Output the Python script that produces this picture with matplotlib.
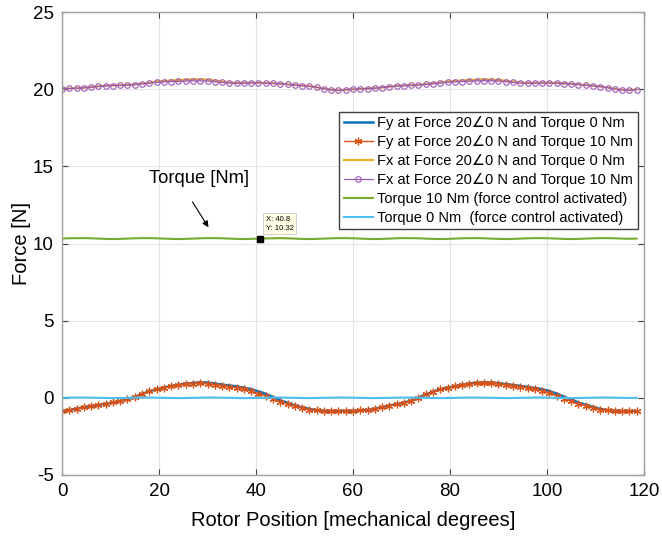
import numpy as np
import matplotlib
matplotlib.use("Agg")
import matplotlib.pyplot as plt

plt.rcParams['font.family'] = ['Liberation Sans', 'DejaVu Sans']
plt.rcParams['axes.unicode_minus'] = False

# rotor position grid [mech. degrees]
pos = np.arange(80) * 1.5

fy_t0 = [-0.86, -0.80, -0.70, -0.60, -0.53, -0.46, -0.39, -0.30, -0.20, -0.10,
         0.05, 0.25, 0.42, 0.56, 0.66, 0.77, 0.85, 0.92, 0.97, 1.00,
         0.99, 0.93, 0.86, 0.80, 0.74, 0.66, 0.56, 0.42, 0.26, 0.06,
         -0.15, -0.33, -0.48, -0.62, -0.72, -0.80, -0.84, -0.85, -0.85, -0.85,
         -0.84, -0.82, -0.78, -0.71, -0.60, -0.50, -0.41, -0.31, -0.18, 0.02,
         0.22, 0.40, 0.55, 0.66, 0.76, 0.85, 0.93, 0.98, 1.00, 0.99,
         0.95, 0.89, 0.83, 0.77, 0.71, 0.64, 0.56, 0.44, 0.28, 0.08,
         -0.12, -0.30, -0.46, -0.60, -0.72, -0.80, -0.84, -0.86, -0.86, -0.86]

fy_t10 = [-0.84, -0.80, -0.70, -0.58, -0.52, -0.45, -0.39, -0.30, -0.20, -0.10,
          0.06, 0.27, 0.43, 0.56, 0.64, 0.75, 0.82, 0.88, 0.92, 0.93,
          0.91, 0.84, 0.78, 0.71, 0.64, 0.55, 0.43, 0.27, 0.12, -0.08,
          -0.27, -0.42, -0.55, -0.67, -0.76, -0.81, -0.84, -0.85, -0.85, -0.85,
          -0.84, -0.82, -0.78, -0.72, -0.60, -0.50, -0.41, -0.31, -0.18, 0.02,
          0.22, 0.40, 0.54, 0.64, 0.74, 0.82, 0.89, 0.93, 0.94, 0.93,
          0.89, 0.83, 0.76, 0.70, 0.63, 0.55, 0.45, 0.32, 0.15, -0.05,
          -0.23, -0.38, -0.52, -0.65, -0.76, -0.82, -0.85, -0.86, -0.86, -0.86]

fx_t0 = [20.04, 20.05, 20.07, 20.10, 20.14, 20.19, 20.23, 20.25, 20.26, 20.28,
         20.32, 20.37, 20.43, 20.50, 20.54, 20.57, 20.60, 20.62, 20.64, 20.64,
         20.62, 20.57, 20.50, 20.44, 20.41, 20.41, 20.42, 20.42, 20.41, 20.39,
         20.36, 20.32, 20.28, 20.24, 20.20, 20.13, 20.04, 19.97, 19.94, 19.97,
         20.00, 20.02, 20.04, 20.07, 20.12, 20.17, 20.22, 20.24, 20.26, 20.28,
         20.33, 20.38, 20.44, 20.50, 20.54, 20.57, 20.60, 20.62, 20.64, 20.63,
         20.60, 20.55, 20.49, 20.43, 20.41, 20.41, 20.42, 20.42, 20.41, 20.38,
         20.35, 20.31, 20.27, 20.23, 20.18, 20.11, 20.02, 19.96, 19.95, 19.98]

fx_t10 = [20.04, 20.05, 20.07, 20.09, 20.13, 20.18, 20.22, 20.24, 20.25, 20.26,
          20.30, 20.34, 20.39, 20.45, 20.48, 20.50, 20.51, 20.53, 20.54, 20.54,
          20.53, 20.49, 20.44, 20.40, 20.39, 20.40, 20.41, 20.41, 20.40, 20.38,
          20.35, 20.31, 20.27, 20.23, 20.19, 20.12, 20.03, 19.96, 19.93, 19.97,
          20.00, 20.02, 20.04, 20.07, 20.11, 20.16, 20.21, 20.23, 20.25, 20.27,
          20.31, 20.35, 20.40, 20.45, 20.48, 20.50, 20.52, 20.54, 20.55, 20.55,
          20.53, 20.49, 20.44, 20.40, 20.39, 20.40, 20.41, 20.41, 20.40, 20.37,
          20.34, 20.30, 20.26, 20.22, 20.17, 20.10, 20.01, 19.95, 19.94, 19.98]

torque_10 = [10.33, 10.34, 10.35, 10.35, 10.34, 10.32, 10.30, 10.29, 10.30, 10.32,
             10.34, 10.35, 10.35, 10.34, 10.32, 10.30, 10.29, 10.30, 10.32, 10.34,
             10.35, 10.35, 10.34, 10.32, 10.30, 10.29, 10.30, 10.32, 10.33, 10.34,
             10.35, 10.34, 10.32, 10.30, 10.29, 10.30, 10.32, 10.34, 10.35, 10.35,
             10.34, 10.32, 10.30, 10.29, 10.30, 10.32, 10.34, 10.35, 10.35, 10.34,
             10.32, 10.30, 10.29, 10.30, 10.32, 10.34, 10.35, 10.35, 10.34, 10.32,
             10.30, 10.29, 10.30, 10.32, 10.34, 10.35, 10.35, 10.34, 10.32, 10.30,
             10.29, 10.30, 10.32, 10.34, 10.35, 10.35, 10.34, 10.32, 10.31, 10.32]

torque_0 = [0.00, 0.01, 0.02, 0.02, 0.01, 0.00, -0.01, -0.02, -0.01, 0.00,
            0.01, 0.02, 0.02, 0.01, 0.00, -0.01, -0.02, -0.01, 0.00, 0.01,
            0.02, 0.02, 0.01, 0.00, -0.01, -0.02, -0.01, 0.00, 0.01, 0.02,
            0.02, 0.01, 0.00, -0.01, -0.02, -0.01, 0.00, 0.01, 0.02, 0.02,
            0.01, 0.00, -0.01, -0.02, -0.01, 0.00, 0.01, 0.02, 0.02, 0.01,
            0.00, -0.01, -0.02, -0.01, 0.00, 0.01, 0.02, 0.02, 0.01, 0.00,
            -0.01, -0.02, -0.01, 0.00, 0.01, 0.02, 0.02, 0.01, 0.00, -0.01,
            -0.02, -0.01, 0.00, 0.01, 0.02, 0.02, 0.01, 0.00, -0.01, 0.00]

labels = ["Fy at Force 20\u22200 N and Torque 0 Nm",
          "Fy at Force 20\u22200 N and Torque 10 Nm",
          "Fx at Force 20\u22200 N and Torque 0 Nm",
          "Fx at Force 20\u22200 N and Torque 10 Nm",
          "Torque 10 Nm (force control activated)",
          "Torque 0 Nm  (force control activated)"]

tip_x, tip_y = 40.8, 10.32

fig = plt.figure(figsize=(6.62, 5.37), dpi=100)
ax = fig.add_axes([0.0937, 0.1155, 0.879, 0.862])

ax.plot(pos, fy_t0, color='#0072BD', lw=1.8, label=labels[0])
ax.plot(pos, fy_t10, color='#D95319', lw=1.0, marker=(6, 2, 0), ms=5.5,
        mew=0.9, label=labels[1])
ax.plot(pos, fx_t0, color='#EDB120', lw=1.5, label=labels[2])
ax.plot(pos, fx_t10, color='#9B59B6', lw=0.9, marker='o', ms=4,
        mfc='none', mew=0.8, label=labels[3])
ax.plot(pos, torque_10, color='#77AC30', lw=1.5, label=labels[4])
ax.plot(pos, torque_0, color='#4DBEEE', lw=1.5, label=labels[5])

# data tip
ax.plot([tip_x], [tip_y], 's', color='black', ms=5)
ax.text(tip_x + 1.2, tip_y + 0.45, f"X: {tip_x}\nY: {tip_y}", fontsize=5.5,
        va='bottom', ha='left', linespacing=1.4,
        bbox=dict(boxstyle='square,pad=0.35', fc='#FFFFE6', ec='#C8C8C8', lw=0.6))

ax.text(18.0, 14.2, "Torque [Nm]", fontsize=13.2, va='center', ha='left')
ax.annotate("", xy=(30.2, 11.05), xytext=(26.9, 12.7),
            arrowprops=dict(arrowstyle='-|>', color='black', lw=0.8,
                            shrinkA=0, shrinkB=0, mutation_scale=9))

ax.set_xlim(0, 120)
ax.set_ylim(-5, 25)
ax.set_xticks(np.arange(0, 121, 20))
ax.set_yticks(np.arange(-5, 26, 5))
ax.grid(True, color='#E3E3E3', lw=0.8)
ax.set_axisbelow(True)
ax.tick_params(direction='in', top=True, right=True, labelsize=13.5,
               length=4, color='#404040', pad=6)
for s in ax.spines.values():
    s.set_color('#A0A0A0')
    s.set_linewidth(1.0)

ax.set_xlabel("Rotor Position [mechanical degrees]", fontsize=14.5, labelpad=8)
ax.set_ylabel("Force [N]", fontsize=14.5, labelpad=1)

ax.legend(loc='upper right', bbox_to_anchor=(0.989, 0.785), fontsize=10.5,
          frameon=True, fancybox=False, edgecolor='#404040', framealpha=1,
          handlelength=2.0, handletextpad=0.3, labelspacing=0.34,
          borderpad=0.3, borderaxespad=0)

fig.savefig("out.png", dpi=100)
